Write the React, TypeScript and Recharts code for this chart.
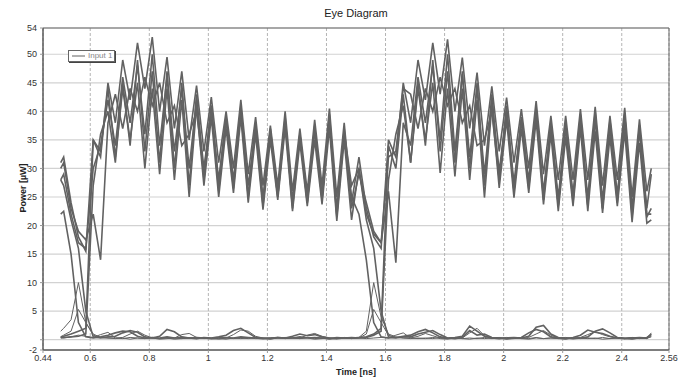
import {
  LineChart,
  Line,
  XAxis,
  YAxis,
  CartesianGrid,
  ReferenceArea,
} from "recharts";

// sample grid (ns): 0.5, then every 0.025 ns from 0.51, then 2.5
const TIME_NS = [
  0.5,
  ...Array.from({ length: 80 }, (_, k) => +(0.51 + 0.025 * k).toFixed(3)),
  2.5,
];

const X_TICKS = [0.44, 0.6, 0.8, 1, 1.2, 1.4, 1.6, 1.8, 2, 2.2, 2.4, 2.56];
const Y_TICKS = [-1.8, 0, 5, 10, 15, 20, 25, 30, 35, 40, 45, 50, 54.6];
const Y_TICK_LABELS = ["-2", "", "5", "10", "15", "20", "25", "30", "35", "40", "45", "50", "54"];

// traces, one value per TIME_NS sample (µW)
const trace111 = [
  31, 32, 24, 18, 15.5, 35, 32, 45,
  38, 49, 42, 52, 44, 53, 40, 49.5, 37, 47, 35, 44.5, 33, 42.5, 31, 40, 30, 42, 29, 39,
  27, 37.5, 27, 40, 26, 37, 26, 38.5, 27, 40.5, 25, 38, 24,
  32, 23, 18, 16, 35, 32, 45,
  38, 49, 42, 52, 43, 52.6, 40, 49.4, 37, 46.8, 34, 44.4, 33, 42.4, 31, 40.4, 30, 41.8,
  29, 39.2, 28, 39.2, 28, 40.4, 28, 40.8, 27, 39.2, 28, 40.6, 25, 38.6, 26,
  30,
];
const trace110 = [
  28, 29, 22, 17, 16, 30, 34, 42,
  34, 46, 38, 48, 36, 50, 34, 46, 33, 44, 30, 42, 30, 40, 28, 39, 28, 40, 27, 37,
  25, 36, 26, 38, 24.5, 35.5, 25, 36.5, 25.5, 38, 23, 36, 25,
  22, 14, 3, 0.5, 0.3, 0.4, 0.6,
  0.8, 1.4, 1.8, 1.2, 0.5, 0.3, 0.4, 0.6, 2.4, 1.5, 0.6, 0.3, 0.2, 0.3, 0.4, 0.3, 0.6,
  2.2, 2.5, 1.0, 0.4, 0.3, 0.2, 0.3, 0.5, 1.5, 1.9, 1.2, 0.4, 0.3, 0.2, 0.3, 0.4, 0.9,
];
const trace011 = [
  0.5, 0.6, 1, 1.5, 2, 35, 33, 44,
  32, 44, 35, 45, 30, 44, 29, 44, 28, 42, 25, 41, 27, 39, 25, 37, 25.7, 39, 24, 36,
  22.8, 35, 24.5, 37, 22.5, 34.5, 23.4, 35, 23.7, 37, 20.8, 35, 21,
  30, 22, 18.5, 17, 26, 13.5, 38,
  34, 46, 38, 48, 35, 50, 33, 46.5, 32, 44, 29, 42, 29.5, 40, 27.5, 38.5, 28, 39.5,
  26, 37, 25, 37, 25.5, 38, 25, 38.5, 24.5, 37, 25.5, 38, 23, 36.5, 23,
  29,
];
const trace101 = [
  22, 22.5, 15, 3, 0.5, 0.3, 0.5, 0.8,
  1.2, 1.5, 1.4, 0.6, 0.3, 0.4, 0.3, 0.5, 0.3, 0.4, 0.3, 0.2, 0.4, 0.3, 0.5, 0.8, 1.6,
  2, 1.2, 0.4, 0.3, 0.2, 0.4, 0.3, 0.3, 0.5, 0.3, 0.4, 0.3, 0.2, 0.4, 0.3, 0.3,
  0.4, 0.5, 1, 2, 34, 30, 43,
  31, 44, 35, 45, 29.2, 44, 28.6, 44, 28, 42, 24.9, 41, 26.6, 38.5, 24.9, 37, 25.7, 38.5,
  23.7, 36, 22.5, 35.5, 23.4, 37, 22.5, 36.5, 22.2, 35.5, 23.4, 36.5, 20.6, 34.5, 20.4,
  21,
];
const trace111b = [
  30, 31, 23, 19, 17.5, 22, 14, 38,
  43, 37, 44, 40, 46, 41, 45, 38, 41, 34, 36, 40, 29, 41, 27, 39, 27, 41, 25, 38,
  24, 37, 25, 39, 23, 36, 24, 37.5, 24.5, 39.5, 22, 37, 23,
  29, 24, 19, 17, 32, 33, 44,
  43, 37, 44, 40, 46, 41, 44, 38, 41, 34, 35, 40, 28, 40, 26, 38.5, 27, 40.5,
  24.5, 38, 23.5, 37.5, 24, 39, 23.5, 39.5, 23, 38, 24, 39.5, 21.5, 37.5, 21.5,
  23,
];
const trace010 = [
  0.3, 0.4, 0.5, 0.6, 1, 27, 36, 40,
  31, 45, 34, 49, 33, 47, 31, 47, 30, 45, 27, 43, 28, 41, 26, 38.5, 26.5, 40.5, 25, 37.5,
  23.5, 36.5, 25, 38.5, 23.5, 36, 24, 37, 24.5, 39, 21.5, 36.5, 27,
  30, 21, 16, 5, 0.5, 0.3, 0.5,
  0.5, 1.0, 1.3, 1.6, 0.9, 0.3, 0.2, 0.4, 1.6, 0.8, 1.0, 0.4, 0.3, 0.2, 0.3, 0.4, 1.2,
  1.8, 1.4, 0.5, 0.3, 0.2, 0.4, 0.8, 1.7, 1.3, 1.1, 0.6, 0.3, 0.2, 0.3, 0.4, 0.3, 1.0,
];
const trace100 = [
  28, 27, 21, 16, 5, 0.5, 0.3, 0.5,
  0.6, 1.2, 1.6, 1.3, 0.5, 0.3, 0.6, 1.8, 1.4, 0.5, 0.3, 0.4, 0.3, 0.2, 0.3, 0.4, 0.3,
  0.5, 0.4, 0.3, 0.2, 0.3, 0.4, 0.3, 0.6, 1.0, 0.7, 0.9, 0.5, 0.3, 0.2, 0.3, 0.4,
  0.3, 0.4, 0.8, 1.5, 28, 36, 41,
  31, 45, 34, 49, 33, 47, 31, 47, 30, 45, 27, 43, 28, 41, 26, 39, 26.5, 40.5,
  25, 38, 23.5, 38, 24.5, 39.5, 23.5, 40, 23, 38.5, 24.5, 39.5, 22, 37.5, 22,
  22,
];
const trace000 = [
  0.4, 0.3, 0.5, 0.8, 0.6, 0.4, 0.9, 1.3,
  0.3, 0.4, 1.0, 1.5, 0.8, 0.3, 0.2, 0.4, 0.3, 0.9, 1.1, 0.4, 0.3, 0.2, 0.4, 0.3, 0.9,
  1.7, 1.5, 0.6, 0.3, 0.2, 0.3, 0.4, 0.3, 0.3, 0.8, 1.1, 0.6, 0.3, 0.2, 0.4, 0.3,
  0.3, 0.2, 0.3, 0.4, 0.3, 0.8, 1.2,
  0.3, 0.6, 1.1, 0.7, 0.3, 0.2, 0.4, 0.3, 1.2, 2.0, 0.7, 0.3, 0.2, 0.4, 0.3, 0.2, 0.4,
  1.0, 1.6, 0.8, 0.3, 0.2, 0.3, 0.4, 0.9, 1.4, 0.9, 0.5, 0.3, 0.2, 0.4, 0.3, 0.2, 1.2,
];
const pulseHigh = [
  1.5, 2, 3.5, 10, 3, 0.8, 0.4, 0.3,
  0.2, 0.3, 0.1, 0.3, 0.2, 0.4, 0.2, 0.3, 0.1, 0.2, 0.3, 0.2, 0.4, 0.2, 0.1, 0.3, 0.2,
  0.3, 0.2, 0.4, 0.2, 0.1, 0.3, 0.2, 0.3, 0.2, 0.4, 0.2, 0.3, 0.1, 0.2, 0.3, 0.2,
  0.4, 1.5, 10, 4, 1, 0.5, 0.3,
  0.2, 0.3, 0.2, 0.4, 0.2, 0.1, 0.3, 0.2, 0.3, 0.2, 0.4, 0.2, 0.3, 0.1, 0.2, 0.3, 0.2,
  0.4, 0.2, 0.3, 0.2, 0.1, 0.3, 0.2, 0.3, 0.2, 0.4, 0.2, 0.3, 0.2, 0.1, 0.3, 0.2, 0.6,
];
const pulseLow = [
  0.5, 0.8, 1.5, 5.3, 3, 1, 0.4, 0.3,
  0.3, 0.2, 0.4, 0.3, 0.2, 0.3, 0.1, 0.2, 0.3, 0.2, 0.3, 0.4, 0.2, 0.3, 0.2, 0.1, 0.3,
  0.2, 0.3, 0.2, 0.2, 0.3, 0.4, 0.2, 0.3, 0.2, 0.3, 0.1, 0.2, 0.3, 0.2, 0.3, 0.2,
  0.3, 1, 5.3, 3, 0.8, 0.4, 0.3,
  0.3, 0.2, 0.3, 0.2, 0.4, 0.2, 0.3, 0.2, 0.1, 0.3, 0.2, 0.3, 0.4, 0.2, 0.3, 0.2, 0.1,
  0.3, 0.2, 0.3, 0.2, 0.4, 0.2, 0.3, 0.2, 0.3, 0.1, 0.2, 0.3, 0.2, 0.4, 0.2, 0.3, 0.5,
];

const TRACES = [
  { key: "t000", values: trace000, width: 1 },
  { key: "pHi", values: pulseHigh, width: 1 },
  { key: "pLo", values: pulseLow, width: 1 },
  { key: "t101", values: trace101, width: 1.6 },
  { key: "t100", values: trace100, width: 1.6 },
  { key: "t010", values: trace010, width: 1.6 },
  { key: "t110", values: trace110, width: 1.6 },
  { key: "t011", values: trace011, width: 1.6 },
  { key: "t111b", values: trace111b, width: 1.6 },
  { key: "t111", values: trace111, width: 1.6 },
];

const chartData = TIME_NS.map((t, i) => {
  const row: any = { t };
  TRACES.forEach((tr) => {
    row[tr.key] = tr.values[i];
  });
  return row;
});

const FONT = "'Liberation Sans', Arial, sans-serif";

export default function App() {
  return (
    <div
      style={{
        position: "absolute",
        left: 0,
        top: 0,
        width: 691,
        height: 388,
        background: "#fff",
        fontFamily: FONT,
      }}
    >
      <LineChart
        width={691}
        height={388}
        data={chartData}
        margin={{ top: 28, right: 22, left: 0, bottom: 0 }}
      >
        <CartesianGrid vertical={false} stroke="#d2d2d2" strokeWidth={1.2} />
        <CartesianGrid horizontal={false} stroke="#b4b4b4" strokeDasharray="3 2" />
        <XAxis
          dataKey="t"
          type="number"
          domain={[0.44, 2.56]}
          ticks={X_TICKS}
          interval={0}
          allowDataOverflow
          height={38}
          tickSize={3}
          tickMargin={2}
          axisLine={{ stroke: "#555" }}
          tickLine={{ stroke: "#999" }}
          tick={{ fill: "#333", fontSize: 9, fontFamily: FONT }}
        />
        <YAxis
          type="number"
          domain={[-1.8, 54.6]}
          ticks={Y_TICKS}
          interval={0}
          allowDataOverflow
          width={43}
          tickSize={3}
          tickMargin={3}
          axisLine={{ stroke: "#555" }}
          tickLine={{ stroke: "#999" }}
          tick={{ fill: "#333", fontSize: 9, fontFamily: FONT }}
          tickFormatter={(_v: number, i: number) => Y_TICK_LABELS[i]}
        />
        <ReferenceArea
          x1={0.44}
          x2={2.56}
          y1={-1.8}
          y2={54.6}
          fill="none"
          stroke="#666"
          strokeWidth={1}
          ifOverflow="visible"
        />
        {TRACES.map((tr) => (
          <Line
            key={tr.key}
            dataKey={tr.key}
            type="linear"
            stroke="#626262"
            strokeWidth={tr.width}
            dot={false}
            activeDot={false}
            isAnimationActive={false}
          />
        ))}
      </LineChart>

      <div
        style={{
          position: "absolute",
          left: 0,
          width: 712,
          top: 7,
          textAlign: "center",
          fontSize: 11,
          color: "#222",
        }}
      >
        Eye Diagram
      </div>

      <div
        style={{
          position: "absolute",
          left: 23,
          top: 188,
          transform: "translate(-50%, -50%) rotate(-90deg)",
          fontSize: 9,
          fontWeight: "bold",
          color: "#222",
          whiteSpace: "nowrap",
        }}
      >
        Power [µW]
      </div>

      <div
        style={{
          position: "absolute",
          left: 356,
          top: 372,
          transform: "translate(-50%, -50%)",
          fontSize: 9,
          fontWeight: "bold",
          color: "#222",
          whiteSpace: "nowrap",
        }}
      >
        Time [ns]
      </div>

      <div
        style={{
          position: "absolute",
          left: 68,
          top: 50,
          width: 45,
          height: 10,
          background: "#fff",
          border: "1px solid #666",
          boxShadow: "1px 1px 0 #444",
          display: "flex",
          alignItems: "center",
          fontSize: 8,
          lineHeight: "10px",
          color: "#888",
          whiteSpace: "nowrap",
          overflow: "hidden",
        }}
      >
        <div style={{ width: 13, height: 2, background: "#b0b0b0", marginLeft: 3, marginRight: 3, flexShrink: 0 }} />
        <span>Input 1</span>
      </div>
    </div>
  );
}
